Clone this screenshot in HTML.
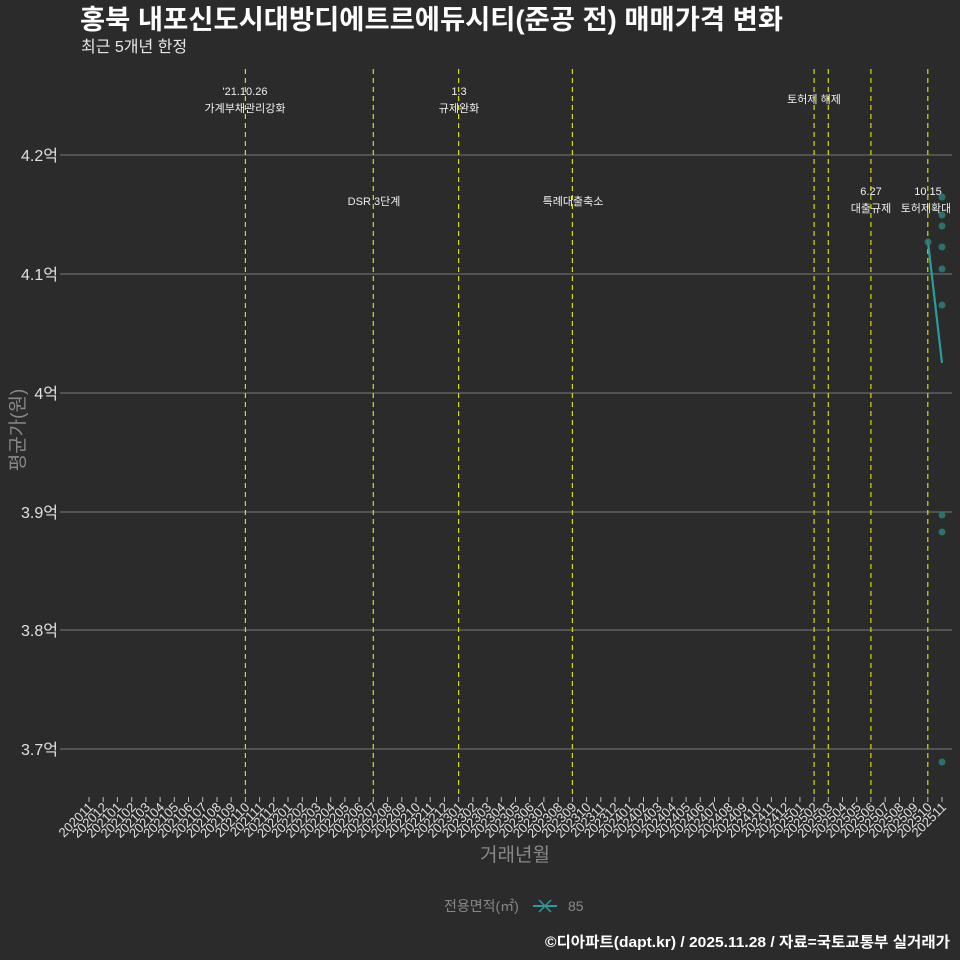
<!DOCTYPE html>
<html><head><meta charset="utf-8"><style>
body{margin:0;background:#2b2b2b;}
svg{display:block;font-family:"Liberation Sans","Noto Sans CJK KR",sans-serif;}
</style></head><body>
<svg width="960" height="960" viewBox="0 0 960 960">
<rect width="960" height="960" fill="#2b2b2b"/>
<text x="80" y="29" fill="#fff" font-size="27" font-weight="bold" textLength="703" lengthAdjust="spacingAndGlyphs">홍북 내포신도시대방디에트르에듀시티(준공 전) 매매가격 변화</text>
<text x="81" y="52" fill="#e8e8e8" font-size="16">최근 5개년 한정</text>
<g stroke="#6a6a6a" stroke-width="1.2">
<line x1="60" x2="952" y1="155" y2="155"/><line x1="60" x2="952" y1="274" y2="274"/>
<line x1="60" x2="952" y1="393" y2="393"/><line x1="60" x2="952" y1="512" y2="512"/>
<line x1="60" x2="952" y1="630" y2="630"/><line x1="60" x2="952" y1="749" y2="749"/>
</g>
<g fill="#e0e0e0" font-size="16" text-anchor="end">
<text x="58" y="161">4.2억</text><text x="58" y="280">4.1억</text><text x="58" y="399">4억</text>
<text x="58" y="518">3.9억</text><text x="58" y="636">3.8억</text><text x="58" y="755">3.7억</text>
</g>
<text transform="translate(24,430) rotate(-90)" fill="#888" font-size="19" text-anchor="middle">평균가(원)</text>
<g stroke="#d4e000" stroke-width="1.2" stroke-dasharray="5,4">
<line x1="245.4" x2="245.4" y1="69" y2="797"/><line x1="373.3" x2="373.3" y1="69" y2="797"/>
<line x1="458.6" x2="458.6" y1="69" y2="797"/><line x1="572.4" x2="572.4" y1="69" y2="797"/>
<line x1="814.1" x2="814.1" y1="69" y2="797"/><line x1="828.3" x2="828.3" y1="69" y2="797"/>
<line x1="870.9" x2="870.9" y1="69" y2="797"/><line x1="927.8" x2="927.8" y1="69" y2="797"/>
</g>
<g fill="#f0f0f0" font-size="11" text-anchor="middle">
<text x="245" y="95">'21.10.26</text><text x="245" y="112">가계부채관리강화</text>
<text x="374" y="205">DSR 3단계</text>
<text x="459" y="95">1.3</text><text x="459" y="112">규제완화</text>
<text x="573" y="205">특례대출축소</text>
<text x="814" y="103">토허제 해제</text>
<text x="871" y="195">6.27</text><text x="871" y="212">대출규제</text>
<text x="928" y="195">10.15</text><text x="926" y="212">토허제확대</text>
</g>
<rect x="950" y="180" width="10" height="40" fill="#2b2b2b"/>
<line x1="928" y1="242" x2="942" y2="363" stroke="#2a9d9a" stroke-width="2.2"/>
<g fill="#2a7f7a" fill-opacity="0.85">
<circle cx="928" cy="242" r="3.5"/>
<circle cx="942" cy="197" r="3.5"/><circle cx="942" cy="215" r="3.5"/><circle cx="942" cy="226" r="3.5"/>
<circle cx="942" cy="247" r="3.5"/><circle cx="942" cy="269" r="3.5"/><circle cx="942" cy="305" r="3.5"/>
<circle cx="942" cy="515" r="3.5"/><circle cx="942" cy="532" r="3.5"/><circle cx="942" cy="762" r="3.5"/>
</g>
<g stroke="#bbb" stroke-width="1">
<path d="M89,797v5M103.2,797v5M117.4,797v5M131.7,797v5M145.9,797v5M160.1,797v5M174.3,797v5M188.5,797v5M202.7,797v5M217,797v5M231.2,797v5M245.4,797v5M259.6,797v5M273.8,797v5M288,797v5M302.3,797v5M316.5,797v5M330.7,797v5M344.9,797v5M359.1,797v5M373.3,797v5M387.6,797v5M401.8,797v5M416,797v5M430.2,797v5M444.4,797v5M458.6,797v5M472.9,797v5M487.1,797v5M501.3,797v5M515.5,797v5M529.7,797v5M543.9,797v5M558.2,797v5M572.4,797v5M586.6,797v5M600.8,797v5M615,797v5M629.3,797v5M643.5,797v5M657.7,797v5M671.9,797v5M686.1,797v5M700.3,797v5M714.5,797v5M728.8,797v5M743,797v5M757.2,797v5M771.4,797v5M785.6,797v5M799.9,797v5M814.1,797v5M828.3,797v5M842.5,797v5M856.7,797v5M870.9,797v5M885.2,797v5M899.4,797v5M913.6,797v5M927.8,797v5M942,797v5"/>
</g>
<g fill="#e0e0e0" font-size="13" text-anchor="end">
<text transform="translate(94,808) rotate(-45)">202011</text>
<text transform="translate(108.2,808) rotate(-45)">202012</text>
<text transform="translate(122.4,808) rotate(-45)">202101</text>
<text transform="translate(136.7,808) rotate(-45)">202102</text>
<text transform="translate(150.9,808) rotate(-45)">202103</text>
<text transform="translate(165.1,808) rotate(-45)">202104</text>
<text transform="translate(179.3,808) rotate(-45)">202105</text>
<text transform="translate(193.5,808) rotate(-45)">202106</text>
<text transform="translate(207.7,808) rotate(-45)">202107</text>
<text transform="translate(222,808) rotate(-45)">202108</text>
<text transform="translate(236.2,808) rotate(-45)">202109</text>
<text transform="translate(250.4,808) rotate(-45)">202110</text>
<text transform="translate(264.6,808) rotate(-45)">202111</text>
<text transform="translate(278.8,808) rotate(-45)">202112</text>
<text transform="translate(293,808) rotate(-45)">202201</text>
<text transform="translate(307.3,808) rotate(-45)">202202</text>
<text transform="translate(321.5,808) rotate(-45)">202203</text>
<text transform="translate(335.7,808) rotate(-45)">202204</text>
<text transform="translate(349.9,808) rotate(-45)">202205</text>
<text transform="translate(364.1,808) rotate(-45)">202206</text>
<text transform="translate(378.3,808) rotate(-45)">202207</text>
<text transform="translate(392.6,808) rotate(-45)">202208</text>
<text transform="translate(406.8,808) rotate(-45)">202209</text>
<text transform="translate(421,808) rotate(-45)">202210</text>
<text transform="translate(435.2,808) rotate(-45)">202211</text>
<text transform="translate(449.4,808) rotate(-45)">202212</text>
<text transform="translate(463.6,808) rotate(-45)">202301</text>
<text transform="translate(477.9,808) rotate(-45)">202302</text>
<text transform="translate(492.1,808) rotate(-45)">202303</text>
<text transform="translate(506.3,808) rotate(-45)">202304</text>
<text transform="translate(520.5,808) rotate(-45)">202305</text>
<text transform="translate(534.7,808) rotate(-45)">202306</text>
<text transform="translate(548.9,808) rotate(-45)">202307</text>
<text transform="translate(563.2,808) rotate(-45)">202308</text>
<text transform="translate(577.4,808) rotate(-45)">202309</text>
<text transform="translate(591.6,808) rotate(-45)">202310</text>
<text transform="translate(605.8,808) rotate(-45)">202311</text>
<text transform="translate(620,808) rotate(-45)">202312</text>
<text transform="translate(634.3,808) rotate(-45)">202401</text>
<text transform="translate(648.5,808) rotate(-45)">202402</text>
<text transform="translate(662.7,808) rotate(-45)">202403</text>
<text transform="translate(676.9,808) rotate(-45)">202404</text>
<text transform="translate(691.1,808) rotate(-45)">202405</text>
<text transform="translate(705.3,808) rotate(-45)">202406</text>
<text transform="translate(719.5,808) rotate(-45)">202407</text>
<text transform="translate(733.8,808) rotate(-45)">202408</text>
<text transform="translate(748,808) rotate(-45)">202409</text>
<text transform="translate(762.2,808) rotate(-45)">202410</text>
<text transform="translate(776.4,808) rotate(-45)">202411</text>
<text transform="translate(790.6,808) rotate(-45)">202412</text>
<text transform="translate(804.9,808) rotate(-45)">202501</text>
<text transform="translate(819.1,808) rotate(-45)">202502</text>
<text transform="translate(833.3,808) rotate(-45)">202503</text>
<text transform="translate(847.5,808) rotate(-45)">202504</text>
<text transform="translate(861.7,808) rotate(-45)">202505</text>
<text transform="translate(875.9,808) rotate(-45)">202506</text>
<text transform="translate(890.2,808) rotate(-45)">202507</text>
<text transform="translate(904.4,808) rotate(-45)">202508</text>
<text transform="translate(918.6,808) rotate(-45)">202509</text>
<text transform="translate(932.8,808) rotate(-45)">202510</text>
<text transform="translate(947,808) rotate(-45)">202511</text>
</g>
<text x="515" y="861" fill="#888" font-size="19" text-anchor="middle">거래년월</text>
<text x="444" y="911" fill="#888" font-size="14">전용면적(㎡)</text>
<line x1="533" y1="906" x2="557" y2="906" stroke="#2a9d9a" stroke-width="2"/>
<path d="M539,900l12,12M551,900l-12,12" stroke="#2a9d9a" stroke-width="1.5"/>
<text x="568" y="911" fill="#888" font-size="14">85</text>
<text x="950" y="947" fill="#fff" font-size="15" font-weight="bold" text-anchor="end" textLength="405" lengthAdjust="spacingAndGlyphs">©디아파트(dapt.kr) / 2025.11.28 / 자료=국토교통부 실거래가</text>
</svg>
</body></html>
